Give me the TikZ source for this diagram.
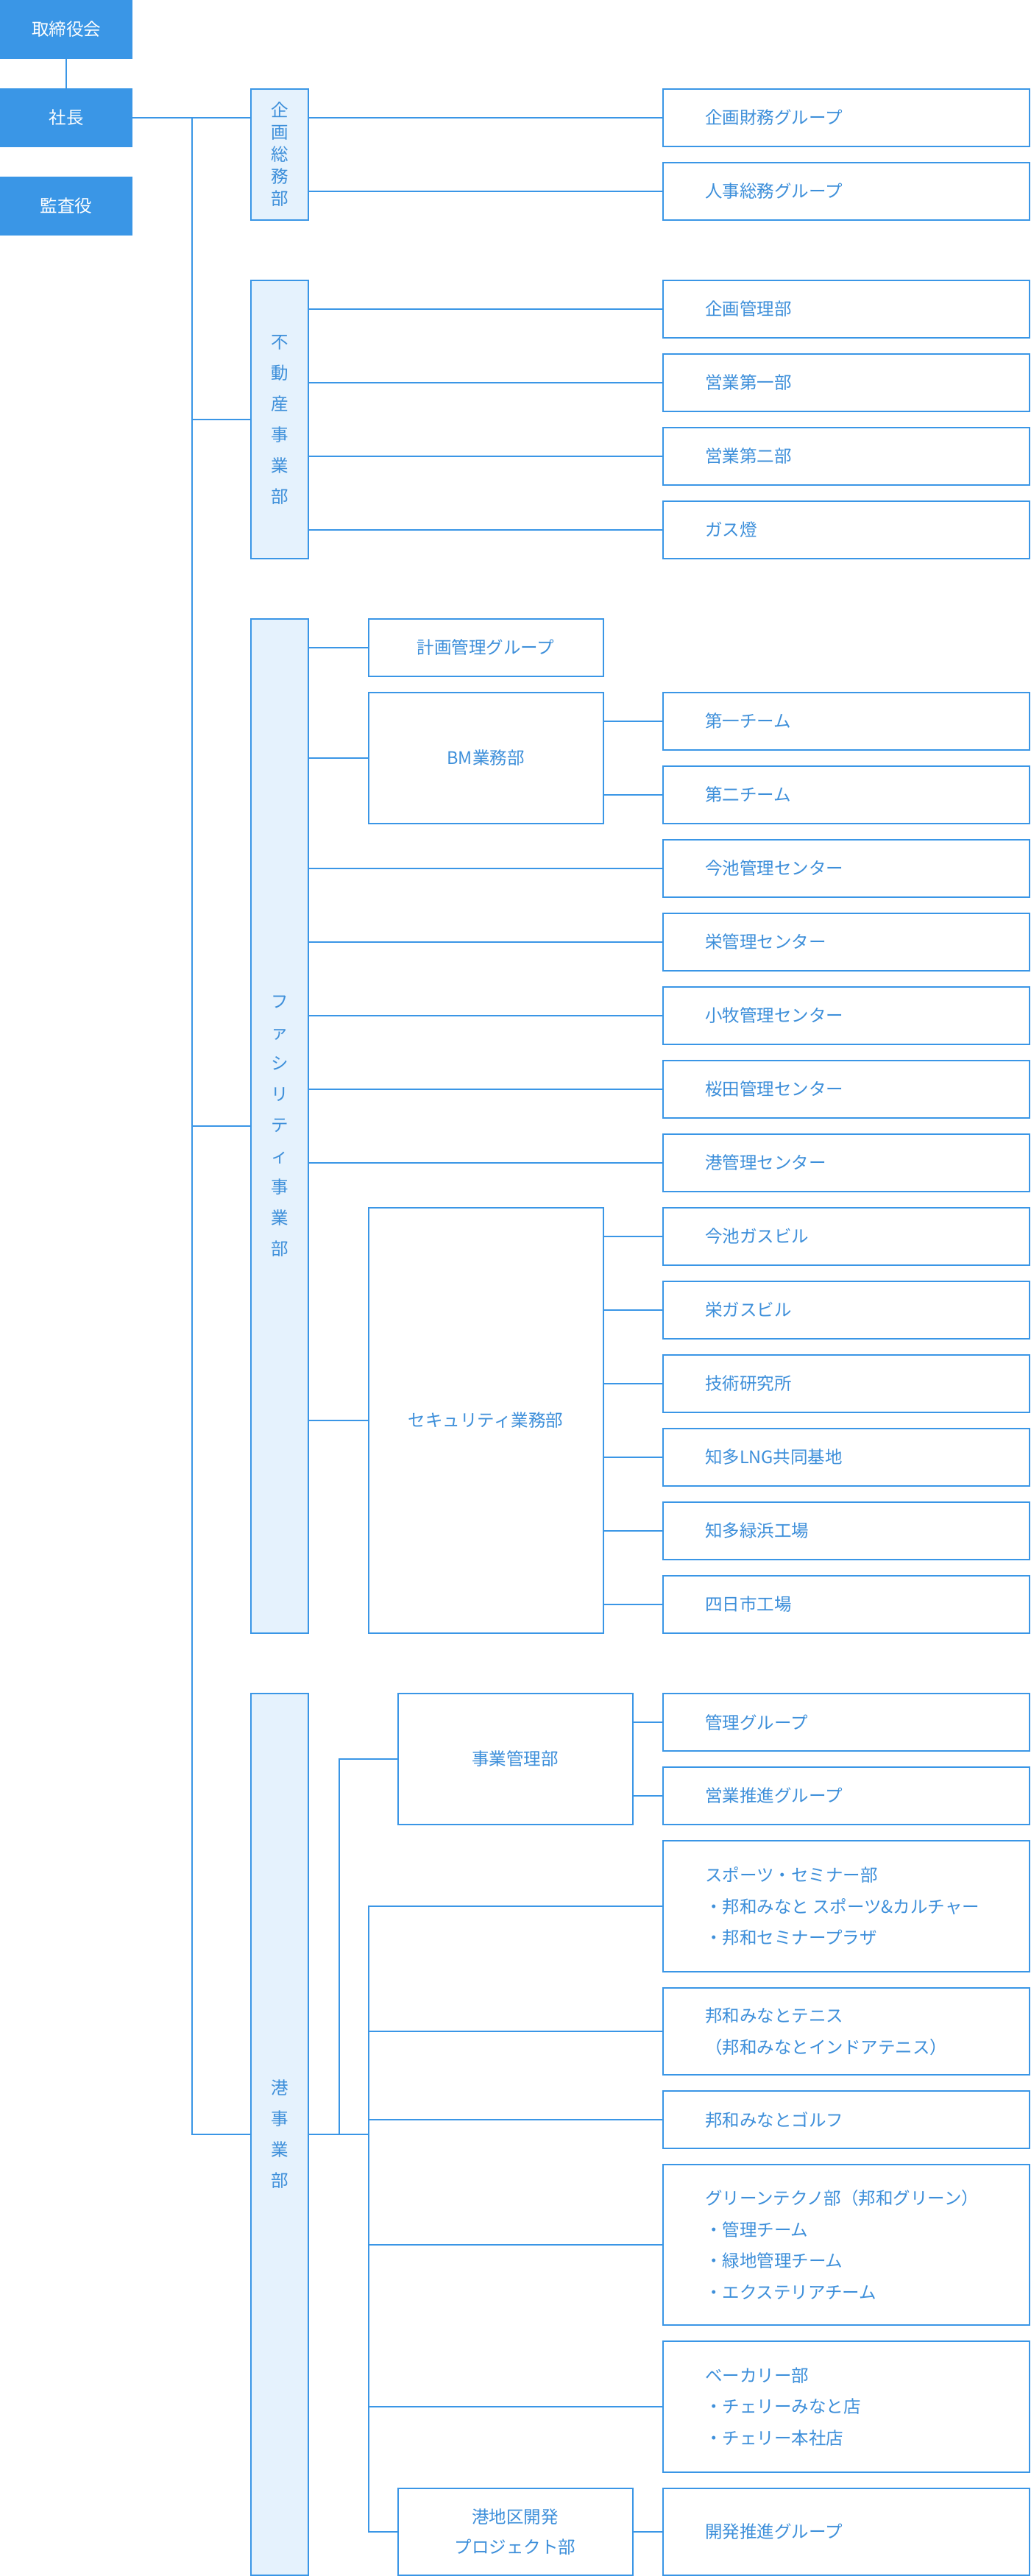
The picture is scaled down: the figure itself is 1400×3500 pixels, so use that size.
\documentclass[tikz,border=0pt]{standalone}
\usepackage{fontspec}
\newfontfamily\jp{Noto Sans CJK JP}
\definecolor{mblue}{HTML}{3A96E6}
\definecolor{lblue}{HTML}{E5F2FD}
\definecolor{tblue}{HTML}{3D8FDA}
\newcommand\rboxat[4]{%
  \node[rbox, minimum height={#3-2}, anchor=north west] (#1) at (900.5,{#2+1}) {};
  \node[lbl] (#1t) at (958,{#2+#3/2}) {#4};}
\newcommand\mboxat[5]{% name, left, top, height, text
  \node[mbox, minimum height={#4-2}, anchor=north west] (#1) at ({#2+0.5},{#3+1}) {#5};}
\newcommand\vboxat[5][]{% [opts] name, top, height, text
  \node[vbx, minimum height={#4-2}, anchor=north, #1] (#2) at (380,{#3+1}) {#5};}
\begin{document}
\begin{tikzpicture}[x=1pt,y=-1pt,
  every node/.style={inner sep=0pt, outer sep=0pt},
  topbox/.style={fill=mblue, text=white, minimum width=180pt, minimum height=80pt, anchor=north west, font=\jp\fontsize{23.5}{28}\selectfont},
  vbx/.style={draw=mblue, fill=lblue, line width=2pt, minimum width=78pt, text=tblue, align=center, font=\jp\fontsize{23.5}{42}\selectfont},
  rbox/.style={draw=mblue, fill=white, line width=2pt, minimum width=498pt},
  mbox/.style={draw=mblue, fill=white, line width=2pt, minimum width=319pt, text=tblue, align=center, font=\jp\fontsize{23.5}{41}\selectfont},
  lbl/.style={text=tblue, align=left, anchor=west, font=\jp\fontsize{23.5}{42.5}\selectfont},
  conn/.style={draw=mblue, line width=2pt, line cap=rect}]
\useasboundingbox (0,0) rectangle (1400,3500);
\fill[white] (0,0) rectangle (1400,3500);

% top boxes
\node[topbox] (kt) at (0,0) {取締役会};
\node[topbox] (sc) at (0,120) {社長};
\node[topbox] (ks) at (0,240) {監査役};

% vertical division boxes
\vboxat[font=\jp\fontsize{23.5}{30}\selectfont]{kiso}{120}{180}{企\\画\\総\\務\\部}
\vboxat{fudo}{380}{380}{不\\動\\産\\事\\業\\部}
\vboxat{fac}{840}{1380}{フ\\ァ\\シ\\リ\\テ\\ィ\\事\\業\\部}
\vboxat{mina}{2300}{1200}{港\\事\\業\\部}

% right boxes
\rboxat{r1}{120}{80}{企画財務グループ}
\rboxat{r2}{220}{80}{人事総務グループ}
\rboxat{r3}{380}{80}{企画管理部}
\rboxat{r4}{480}{80}{営業第一部}
\rboxat{r5}{580}{80}{営業第二部}
\rboxat{r6}{680}{80}{ガス燈}
\rboxat{r7}{940}{80}{第一チーム}
\rboxat{r8}{1040}{80}{第二チーム}
\rboxat{r9}{1140}{80}{今池管理センター}
\rboxat{r10}{1240}{80}{栄管理センター}
\rboxat{r11}{1340}{80}{小牧管理センター}
\rboxat{r12}{1440}{80}{桜田管理センター}
\rboxat{r13}{1540}{80}{港管理センター}
\rboxat{r14}{1640}{80}{今池ガスビル}
\rboxat{r15}{1740}{80}{栄ガスビル}
\rboxat{r16}{1840}{80}{技術研究所}
\rboxat{r17}{1940}{80}{知多LNG共同基地}
\rboxat{r18}{2040}{80}{知多緑浜工場}
\rboxat{r19}{2140}{80}{四日市工場}
\rboxat{r20}{2300}{80}{管理グループ}
\rboxat{r21}{2400}{80}{営業推進グループ}
\rboxat{r22}{2500}{180}{スポーツ・セミナー部\\・邦和みなと スポーツ\&カルチャー\\・邦和セミナープラザ}
\rboxat{r23}{2700}{120}{邦和みなとテニス\\（邦和みなとインドアテニス）}
\rboxat{r24}{2840}{80}{邦和みなとゴルフ}
\rboxat{r25}{2940}{220}{グリーンテクノ部（邦和グリーン）\\・管理チーム\\・緑地管理チーム\\・エクステリアチーム}
\rboxat{r26}{3180}{180}{ベーカリー部\\・チェリーみなと店\\・チェリー本社店}
\rboxat{r27}{3380}{120}{開発推進グループ}

% middle boxes
\mboxat{keikaku}{500}{840}{80}{計画管理グループ}
\mboxat{bm}{500}{940}{180}{BM業務部}
\mboxat{sec}{500}{1640}{580}{セキュリティ業務部}
\mboxat{jigyo}{540}{2300}{180}{事業管理部}
\mboxat{kaihatsu}{540}{3380}{120}{港地区開発\\プロジェクト部}

% connectors: top
\draw[conn] (kt.south) -- (sc.north);
\draw[conn] (sc.east) -- (sc.east -| kiso.west);
\coordinate (t0) at (261,160);
\coordinate (t1) at (261,2900);
\draw[conn] (t0) -- (t1);
\draw[conn] (t0 |- fudo.west) -- (fudo.west);
\draw[conn] (t0 |- fac.west) -- (fac.west);
\draw[conn] (t1) -- (mina.west);

% kiso
\foreach \r in {r1,r2} \draw[conn] (kiso.east |- \r.west) -- (\r.west);
% fudo
\foreach \r in {r3,r4,r5,r6} \draw[conn] (fudo.east |- \r.west) -- (\r.west);
% facility
\foreach \r in {keikaku,bm,sec} \draw[conn] (fac.east |- \r.west) -- (\r.west);
\foreach \r in {r9,r10,r11,r12,r13} \draw[conn] (fac.east |- \r.west) -- (\r.west);
\foreach \r in {r7,r8} \draw[conn] (bm.east |- \r.west) -- (\r.west);
\foreach \r in {r14,r15,r16,r17,r18,r19} \draw[conn] (sec.east |- \r.west) -- (\r.west);

% minato
\coordinate (m1) at (461,2900);
\coordinate (m2) at (501,2900);
\draw[conn] (mina.east) -- (m2);
\draw[conn] (m1) |- (jigyo.west);
\draw[conn] (m2 |- r22.west) -- (m2 |- kaihatsu.west);
\foreach \r in {r22,r23,r24,r25,r26,kaihatsu} \draw[conn] (m2 |- \r.west) -- (\r.west);
\foreach \r in {r20,r21} \draw[conn] (jigyo.east |- \r.west) -- (\r.west);
\draw[conn] (kaihatsu.east) -- (r27.west);
\end{tikzpicture}
\end{document}
